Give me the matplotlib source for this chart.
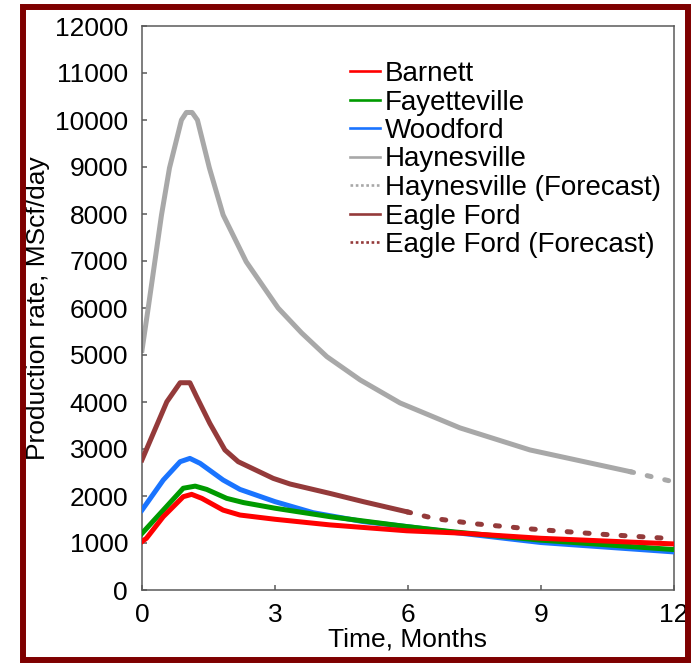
import matplotlib
matplotlib.use("Agg")
import matplotlib.pyplot as plt
from matplotlib.lines import Line2D
from matplotlib.patches import Rectangle

plt.rcParams['font.family'] = ['Liberation Sans', 'DejaVu Sans']

# ---- data (months, MScf/day) ----
hay_x = [0, 0.14, 0.44, 0.62, 0.89, 1.0, 1.13, 1.25, 1.52, 1.83, 2.35, 3.07, 3.6, 4.17, 4.92, 5.82, 7.17, 8.75, 11.0]
hay_y = [5100, 6000, 7980, 8980, 10000, 10160, 10160, 10000, 8980, 7980, 6985, 6000, 5470, 4965, 4470, 3980, 3450, 2980, 2520]
hay_fx = [11.0, 12.0]
hay_fy = [2520, 2300]

eag_x = [0, 0.56, 0.86, 1.08, 1.23, 1.53, 1.87, 2.17, 2.96, 3.34, 4.24, 4.99, 5.97]
eag_y = [2770, 4005, 4410, 4410, 4115, 3545, 2980, 2730, 2375, 2255, 2055, 1880, 1665]
eag_fx = [5.97, 6.6, 7.5, 8.75, 10.3, 12.0]
eag_fy = [1665, 1520, 1410, 1300, 1190, 1090]

woo_x = [0, 0.48, 0.86, 1.08, 1.31, 1.83, 2.21, 3.0, 3.86, 4.99, 5.97, 7.17, 9.0, 12.0]
woo_y = [1700, 2340, 2730, 2800, 2695, 2340, 2140, 1880, 1645, 1455, 1350, 1210, 1010, 810]

fay_x = [0, 0.48, 0.93, 1.2, 1.46, 1.91, 2.29, 3.0, 4.24, 5.97, 7.0, 9.0, 12.0]
fay_y = [1205, 1700, 2165, 2210, 2140, 1950, 1860, 1740, 1560, 1350, 1240, 1060, 860]

bar_x = [0, 0.1, 0.48, 0.93, 1.12, 1.35, 1.83, 2.21, 3.0, 4.24, 5.97, 7.2, 9.0, 12.0]
bar_y = [1030, 1100, 1560, 1985, 2035, 1950, 1700, 1595, 1505, 1385, 1260, 1210, 1100, 980]

labels = ["Barnett", "Fayetteville", "Woodford", "Haynesville",
          "Haynesville (Forecast)", "Eagle Ford", "Eagle Ford (Forecast)"]
x_ticks = [0, 3, 6, 9, 12]
y_ticks = list(range(0, 12001, 1000))

c_red = "#FF0000"
c_green = "#009A00"
c_blue = "#1A74FF"
c_grey = "#A8A8A8"
c_brown = "#943A3A"

W, H = 697, 663
fig = plt.figure(figsize=(W / 100, H / 100), dpi=100)
ax = fig.add_axes([142 / W, 1 - 590 / H, (674 - 142) / W, (590 - 26) / H])

lw = 3.6
dash = dict(linestyle=(0, (0.8, 2.8)), dash_capstyle='round')
ax.plot(hay_x, hay_y, color=c_grey, lw=lw, solid_joinstyle='round', zorder=2)
ax.plot(hay_fx, hay_fy, color=c_grey, lw=lw, zorder=2, **dash)
ax.plot(eag_x, eag_y, color=c_brown, lw=lw, solid_joinstyle='round', zorder=3)
ax.plot(eag_fx, eag_fy, color=c_brown, lw=lw, zorder=3, **dash)
ax.plot(woo_x, woo_y, color=c_blue, lw=lw, solid_joinstyle='round', zorder=4)
ax.plot(fay_x, fay_y, color=c_green, lw=lw, solid_joinstyle='round', zorder=5)
ax.plot(bar_x, bar_y, color=c_red, lw=lw, solid_joinstyle='round', zorder=6)

ax.set_xlim(0, 12)
ax.set_ylim(0, 12000)
ax.set_xticks(x_ticks)
ax.set_yticks(y_ticks)
ax.set_xticklabels([str(t) for t in x_ticks])
ax.set_yticklabels([str(t) for t in y_ticks])

for s in ax.spines.values():
    s.set_color("#5A5A5A")
    s.set_linewidth(1.1)
ax.tick_params(axis='both', direction='in', length=3.3, width=1.1, color="#5A5A5A",
               labelsize=19, labelcolor='black')
ax.tick_params(axis='x', pad=9, top=False)
ax.tick_params(axis='y', pad=10, right=False)

ax.set_xlabel("Time, Months", fontsize=19)
ax.set_ylabel("Production rate, MScf/day", fontsize=19)
ax.xaxis.set_label_coords(0.5, -0.066)
ax.yaxis.set_label_coords(-0.172, 0.5)

lw_leg = 1.9
handles = [
    Line2D([], [], color=c_red, lw=lw_leg),
    Line2D([], [], color=c_green, lw=lw_leg),
    Line2D([], [], color=c_blue, lw=lw_leg),
    Line2D([], [], color=c_grey, lw=lw_leg),
    Line2D([], [], color=c_grey, lw=lw_leg, linestyle=(0, (1, 1))),
    Line2D([], [], color=c_brown, lw=lw_leg),
    Line2D([], [], color=c_brown, lw=lw_leg, linestyle=(0, (1, 1))),
]
leg = ax.legend(handles, labels, loc='upper left',
                bbox_to_anchor=(350 / W, 1 - 61 / H), bbox_transform=fig.transFigure,
                frameon=False, fontsize=20, handlelength=1.08, handletextpad=0.18,
                labelspacing=0.09, borderpad=0, borderaxespad=0)

fig.patches.append(Rectangle((23 / W, 1 - 660 / H), (688 - 23) / W, (660 - 7) / H,
                             transform=fig.transFigure, fill=False,
                             edgecolor="#7E0000", linewidth=4.3, zorder=10))

fig.savefig("out.png", dpi=100)
